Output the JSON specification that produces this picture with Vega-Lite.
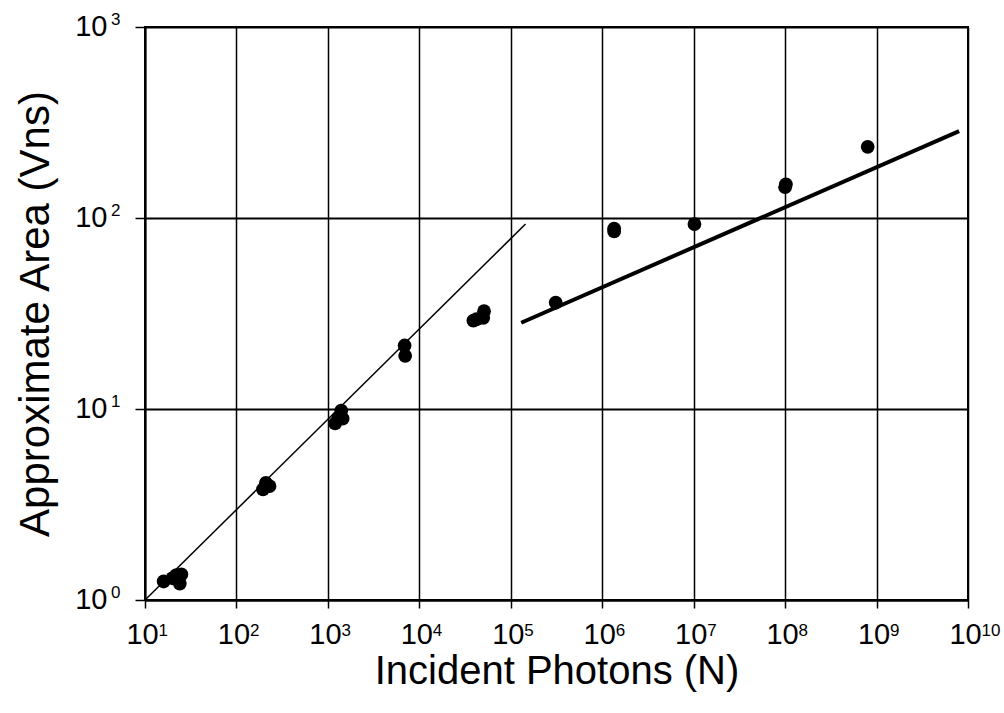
{
  "$schema": "https://vega.github.io/schema/vega-lite/v6.json",
  "width": 823,
  "height": 573,
  "autosize": "none",
  "padding": {"left": 145, "top": 27, "right": 36, "bottom": 113},
  "background": "white",
  "config": {
    "font": "Liberation Sans",
    "view": {"stroke": "black", "strokeWidth": 2},
    "axis": {
      "domainColor": "black",
      "domainWidth": 2,
      "gridColor": "black",
      "gridOpacity": 1,
      "tickColor": "black",
      "tickWidth": 1.5,
      "labelColor": "black",
      "titleColor": "black",
      "labelFont": "Liberation Sans",
      "titleFont": "Liberation Sans",
      "titleFontWeight": "normal",
      "labelFlush": false
    }
  },
  "datasets": {
    "points": [
      {"N": 16, "A": 1.25}, {"N": 20, "A": 1.3}, {"N": 22, "A": 1.35}, {"N": 24, "A": 1.22}, {"N": 25, "A": 1.36},
      {"N": 195, "A": 3.8}, {"N": 210, "A": 4.1}, {"N": 230, "A": 3.95},
      {"N": 1200, "A": 8.4}, {"N": 1300, "A": 9.0}, {"N": 1400, "A": 9.8}, {"N": 1450, "A": 8.9},
      {"N": 6900, "A": 21.5}, {"N": 7000, "A": 19.0},
      {"N": 39000, "A": 29.0}, {"N": 42000, "A": 29.5}, {"N": 51000, "A": 32.5}, {"N": 50000, "A": 30.0},
      {"N": 310000, "A": 36.0},
      {"N": 1350000, "A": 85.0}, {"N": 1350000, "A": 88.0},
      {"N": 10200000, "A": 93.0},
      {"N": 100000000, "A": 145.0}, {"N": 102000000, "A": 150.0},
      {"N": 800000000, "A": 236.0}
    ],
    "fits": [
      {"fit": "low", "N": 10, "A": 1.0},
      {"fit": "low", "N": 145000, "A": 93.0},
      {"fit": "high", "N": 130000, "A": 28.3},
      {"fit": "high", "N": 8000000000, "A": 285.0}
    ]
  },
  "resolve": {"axis": {"x": "independent", "y": "independent"}},
  "layer": [
    {
      "data": {"name": "fits"},
      "mark": {"type": "line", "color": "black", "clip": true},
      "encoding": {
        "x": {
          "field": "N", "type": "quantitative",
          "scale": {"type": "log", "domain": [10, 10000000000], "nice": false},
          "axis": {
            "orient": "bottom",
            "values": [10, 100, 1000, 10000, 100000, 1000000, 10000000, 100000000, 1000000000, 10000000000],
            "labelExpr": "'10'",
            "labelFontSize": 29,
            "labelOffset": -3,
            "labelPadding": 12,
            "tickSize": 8,
            "gridWidth": 1.5,
            "title": "Incident Photons (N)",
            "titleFontSize": 40,
            "titlePadding": 2
          }
        },
        "y": {
          "field": "A", "type": "quantitative",
          "scale": {"type": "log", "domain": [1, 1000], "nice": false},
          "axis": {
            "orient": "left",
            "values": [1, 10, 100, 1000],
            "labelExpr": "'10'",
            "labelFontSize": 29,
            "labelPadding": 28,
            "labelOffset": -1,
            "tickSize": 10,
            "gridWidth": 2,
            "title": "Approximate Area (Vns)",
            "titleFontSize": 42,
            "titlePadding": 17
          }
        },
        "detail": {"field": "fit"},
        "strokeWidth": {
          "field": "fit", "type": "nominal",
          "scale": {"domain": ["low", "high"], "range": [1.5, 4]},
          "legend": null
        }
      }
    },
    {
      "data": {"name": "points"},
      "mark": {"type": "circle", "color": "black", "opacity": 1, "size": 190},
      "encoding": {
        "x": {
          "field": "N", "type": "quantitative",
          "axis": {
            "orient": "bottom",
            "values": [10, 100, 1000, 10000, 100000, 1000000, 10000000, 100000000, 1000000000, 10000000000],
            "labelExpr": "'' + round(log(datum.value)/LN10)",
            "labelFontSize": 17,
            "labelAlign": "left",
            "labelOffset": 13,
            "labelPadding": 22,
            "labelOverlap": false,
            "grid": false,
            "domain": false,
            "ticks": false,
            "title": null
          }
        },
        "y": {
          "field": "A", "type": "quantitative",
          "axis": {
            "orient": "left",
            "values": [1, 10, 100, 1000],
            "labelExpr": "'' + round(log(datum.value)/LN10)",
            "labelFontSize": 17,
            "labelPadding": 25,
            "labelOffset": -8,
            "labelOverlap": false,
            "grid": false,
            "domain": false,
            "ticks": false,
            "title": null
          }
        }
      }
    }
  ]
}
